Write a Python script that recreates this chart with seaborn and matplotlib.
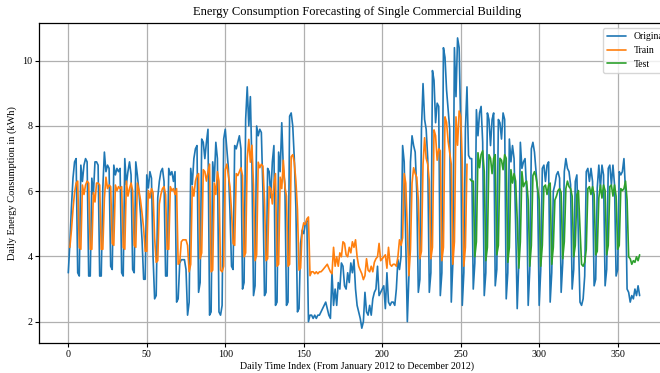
import numpy as np
import matplotlib
matplotlib.use("Agg")
import matplotlib.pyplot as plt
import seaborn as sns

# Daily energy use of the building, 2012 (kWh), day index 0 = 1 January
original = [
    3.5, 4.4, 5.5, 6.4, 6.9, 7.0, 3.5, 3.4, 6.8, 6.3, 6.8, 7.0, 6.9, 3.4, 3.4,
    6.4, 5.9, 6.9, 6.9, 6.8, 3.4, 3.4, 6.1, 7.2, 6.6, 6.8, 6.7, 3.7, 3.6,
    6.8, 6.5, 6.7, 6.6, 6.7, 3.5, 3.4, 7.0, 6.2, 6.6, 6.9, 6.5, 3.6, 3.5,
    6.9, 6.5, 6.0, 5.3, 4.5, 3.3, 3.3, 6.5, 6.1, 6.6, 6.4, 4.0, 2.7, 2.8,
    5.8, 6.3, 6.6, 6.7, 6.3, 3.4, 3.4, 6.7, 6.5, 6.6, 6.3, 6.6, 2.6, 2.7,
    3.8, 3.9, 3.9, 3.9, 3.6, 2.2, 2.6, 6.7, 6.2, 7.0, 7.3, 7.4, 2.9, 3.2,
    7.6, 7.5, 7.0, 7.5, 7.9, 2.2, 2.3, 6.9, 6.3, 7.5, 7.0, 2.3, 2.2, 2.5,
    7.6, 7.9, 7.3, 6.7, 5.4, 3.7, 3.6, 7.4, 7.3, 7.5, 7.7, 7.3, 3.0, 3.2,
    8.2, 9.2, 8.0, 8.9, 6.8, 2.8, 3.1, 8.0, 7.7, 7.9, 7.8, 6.0, 2.8, 2.9,
    6.7, 6.6, 5.8, 6.9, 7.4, 2.5, 2.6, 7.2, 6.6, 8.1, 6.7, 6.2, 2.5, 2.6,
    8.3, 8.4, 8.0, 7.0, 5.5, 2.3, 2.4, 4.4, 4.8, 4.7, 5.0, 5.1, 2.0, 2.2,
    2.2, 2.1, 2.2, 2.1, 2.2, 2.2, 2.3, 2.4, 2.5, 2.6, 2.4, 2.2, 2.1, 3.5,
    2.5, 3.0, 2.5, 3.2, 3.0, 3.8, 3.7, 3.1, 3.0, 3.5, 3.2, 3.8, 3.5, 3.9,
    3.0, 2.5, 2.3, 2.1, 1.8, 2.0, 2.9, 2.3, 2.2, 2.5, 2.2, 2.7, 2.9, 3.0,
    3.7, 2.8, 2.9, 3.0, 3.1, 2.4, 3.5, 2.6, 2.5, 2.6, 2.6, 2.5, 3.0, 3.9,
    3.6, 4.0, 7.4, 6.9, 4.4, 2.0, 3.4, 6.9, 7.7, 7.4, 7.2, 6.0, 2.9, 3.3,
    7.9, 9.3, 8.2, 7.9, 7.0, 2.9, 3.5, 9.7, 9.4, 8.1, 8.7, 8.6, 2.8, 3.5,
    10.4, 10.1, 9.1, 8.5, 7.9, 2.6, 3.8, 10.4, 8.9, 10.7, 10.4, 8.0, 2.5, 3.5,
    7.9, 9.2, 7.1, 7.0, 7.0, 3.0, 3.8, 8.5, 7.7, 8.4, 8.6, 7.5, 2.8, 3.5,
    8.4, 8.2, 7.4, 8.2, 8.4, 3.1, 3.6, 8.2, 8.1, 7.6, 8.4, 8.2, 2.7, 3.5,
    7.6, 6.9, 7.4, 7.0, 5.0, 2.4, 3.8, 7.5, 6.7, 6.9, 7.0, 6.0, 2.5, 3.6,
    7.3, 7.5, 7.2, 6.6, 6.0, 2.5, 3.6, 6.7, 6.8, 6.3, 6.8, 6.9, 2.6, 3.5,
    6.0, 6.2, 6.5, 6.6, 6.4, 2.9, 3.8, 6.6, 7.0, 6.7, 6.6, 6.2, 3.0, 3.6,
    6.3, 6.5, 4.5, 2.6, 2.5, 2.7, 3.4, 6.6, 6.7, 6.3, 6.7, 6.3, 3.1, 3.3,
    6.1, 6.8, 6.1, 6.8, 6.5, 3.1, 3.6, 6.7, 6.8, 6.2, 6.8, 6.2, 3.4, 3.6,
    6.6, 6.5, 6.6, 7.0, 6.0, 3.0, 2.9, 2.6, 2.8, 2.7, 3.0, 2.8, 3.1, 2.8,
]

# Model output on the training period (days 1-254)
train_pred = [
    4.28, 4.80, 5.44, 5.96, 6.25, 6.31, 4.28, 4.22, 6.19, 5.90, 6.19, 6.31, 6.25, 4.22,
    4.22, 5.96, 5.67, 6.25, 6.25, 6.19, 4.22, 4.22, 5.79, 6.43, 6.08, 6.19, 6.14, 4.40,
    4.34, 6.19, 6.02, 6.14, 6.08, 6.14, 4.28, 4.22, 6.31, 5.85, 6.08, 6.25, 6.02, 4.34,
    4.28, 6.25, 6.02, 5.73, 5.32, 4.86, 4.16, 4.16, 6.02, 5.79, 6.08, 5.96, 4.57, 3.82,
    3.87, 5.61, 5.90, 6.08, 6.14, 5.90, 4.22, 4.22, 6.14, 6.02, 6.08, 5.90, 6.08, 3.76,
    3.82, 4.45, 4.51, 4.51, 4.51, 4.34, 3.53, 3.76, 6.14, 5.85, 6.31, 6.48, 6.54, 3.93,
    4.11, 6.66, 6.60, 6.31, 6.60, 6.83, 3.53, 3.58, 6.25, 5.90, 6.60, 6.31, 3.58, 3.53,
    3.70, 6.66, 6.83, 6.48, 6.14, 5.38, 4.40, 4.34, 6.54, 6.48, 6.60, 6.72, 6.48, 3.99,
    4.11, 7.01, 7.59, 6.89, 7.41, 6.19, 3.87, 4.05, 6.89, 6.72, 6.83, 6.77, 5.73, 3.87,
    3.93, 6.14, 6.08, 5.61, 6.25, 6.54, 3.70, 3.76, 6.43, 6.08, 6.95, 6.14, 5.85, 3.70,
    3.76, 7.06, 7.12, 6.89, 6.31, 5.44, 3.58, 3.64, 4.80, 5.03, 4.98, 5.15, 5.21, 3.41,
    3.53, 3.53, 3.47, 3.53, 3.47, 3.53, 3.53, 3.58, 3.64, 3.70, 3.76, 3.64, 3.53, 3.47,
    4.28, 3.70, 3.99, 3.70, 4.11, 3.99, 4.45, 4.40, 4.05, 3.99, 4.28, 4.11, 4.45, 4.28,
    4.51, 3.99, 3.70, 3.58, 3.47, 3.29, 3.41, 3.93, 3.58, 3.53, 3.70, 3.53, 3.82, 3.93,
    3.99, 4.40, 3.87, 3.93, 3.99, 4.05, 3.64, 4.28, 3.76, 3.70, 3.76, 3.76, 3.70, 3.99,
    4.51, 4.34, 4.57, 6.54, 6.25, 4.80, 3.41, 4.22, 6.25, 6.72, 6.54, 6.43, 5.73, 3.93,
    4.16, 6.83, 7.64, 7.01, 6.83, 6.31, 3.93, 4.28, 7.88, 7.70, 6.95, 7.30, 7.24, 3.87,
    4.28, 8.28, 8.11, 7.53, 7.18, 6.83, 3.76, 4.45, 8.28, 7.41, 8.46, 8.28, 6.89, 3.70,
    4.28, 6.83,
]

# Model output on the test period (days 256-364)
test_pred = [
    6.37, 6.31, 6.31, 3.99, 4.45, 7.18, 6.72, 7.12, 7.24, 6.60, 3.87, 4.28, 7.12, 7.01,
    6.54, 7.01, 7.12, 4.05, 4.34, 7.01, 6.95, 6.66, 7.12, 7.01, 3.82, 4.28, 6.66, 6.25,
    6.54, 6.31, 5.15, 3.64, 4.45, 6.60, 6.14, 6.25, 6.31, 5.73, 3.70, 4.34, 6.48, 6.60,
    6.43, 6.08, 5.73, 3.70, 4.34, 6.14, 6.19, 5.90, 6.19, 6.25, 3.76, 4.28, 5.73, 5.85,
    6.02, 6.08, 5.96, 3.93, 4.45, 6.08, 6.31, 6.14, 6.08, 5.85, 3.99, 4.34, 5.90, 6.02,
    4.86, 3.76, 3.70, 3.82, 4.22, 6.08, 6.14, 5.90, 6.14, 5.90, 4.05, 4.16, 5.79, 6.19,
    5.79, 6.19, 6.02, 4.05, 4.34, 6.14, 6.19, 5.85, 6.19, 5.85, 4.22, 4.34, 6.08, 6.02,
    6.08, 6.31, 5.73, 3.99, 3.93, 3.76, 3.87, 3.82, 3.99, 3.87, 4.05,
]

TRAIN_FIRST_DAY = 1
TEST_FIRST_DAY = 256

sns.set_theme(style="ticks")
plt.rcParams["font.family"] = ["Liberation Serif", "DejaVu Serif"]
plt.rcParams["axes.edgecolor"] = "black"
plt.rcParams["xtick.color"] = "black"
plt.rcParams["ytick.color"] = "black"
plt.rcParams["text.color"] = "black"
plt.rcParams["axes.labelcolor"] = "black"

fig = plt.figure(figsize=(6.6, 3.73), dpi=100)
# the plotting area runs a little past the right edge of the canvas
ax = fig.add_axes([0.0597, 0.0812, 0.9632, 0.856])

days_all = np.arange(len(original))
days_train = np.arange(TRAIN_FIRST_DAY, TRAIN_FIRST_DAY + len(train_pred))
days_test = np.arange(TEST_FIRST_DAY, TEST_FIRST_DAY + len(test_pred))

lw = 1.2
sns.lineplot(x=days_all, y=original, ax=ax, color="#1f77b4", linewidth=lw, label="Original")
sns.lineplot(x=days_train, y=train_pred, ax=ax, color="#ff7f0e", linewidth=lw, label="Train")
sns.lineplot(x=days_test, y=test_pred, ax=ax, color="#2ca02c", linewidth=lw, label="Test")

ax.set_xlim(-18.4, 386.6)
ax.set_ylim(1.355, 11.145)
ax.grid(True, color="#b0b0b0", linewidth=0.9)
ax.set_axisbelow(True)
for side in ax.spines.values():
    side.set_linewidth(0.9)
    side.set_color("black")
ax.tick_params(labelsize=7.2, length=3, width=0.8, pad=2)
ax.set_yticks([2, 4, 6, 8, 10])
ax.set_xticks(np.arange(0, 351, 50))

ax.set_title("Energy Consumption Forecasting of Single Commercial Building", fontsize=9, pad=6)
ax.set_xlabel("Daily Time Index (From January 2012 to December 2012)", fontsize=7.2, labelpad=2)
ax.set_ylabel("Daily Energy Consumption in (kWh)", fontsize=7.5, labelpad=4)

ax.legend(loc="upper right", fontsize=7, frameon=True, fancybox=True,
          edgecolor="#cccccc", framealpha=0.8)

fig.savefig("out.png", dpi=100)
